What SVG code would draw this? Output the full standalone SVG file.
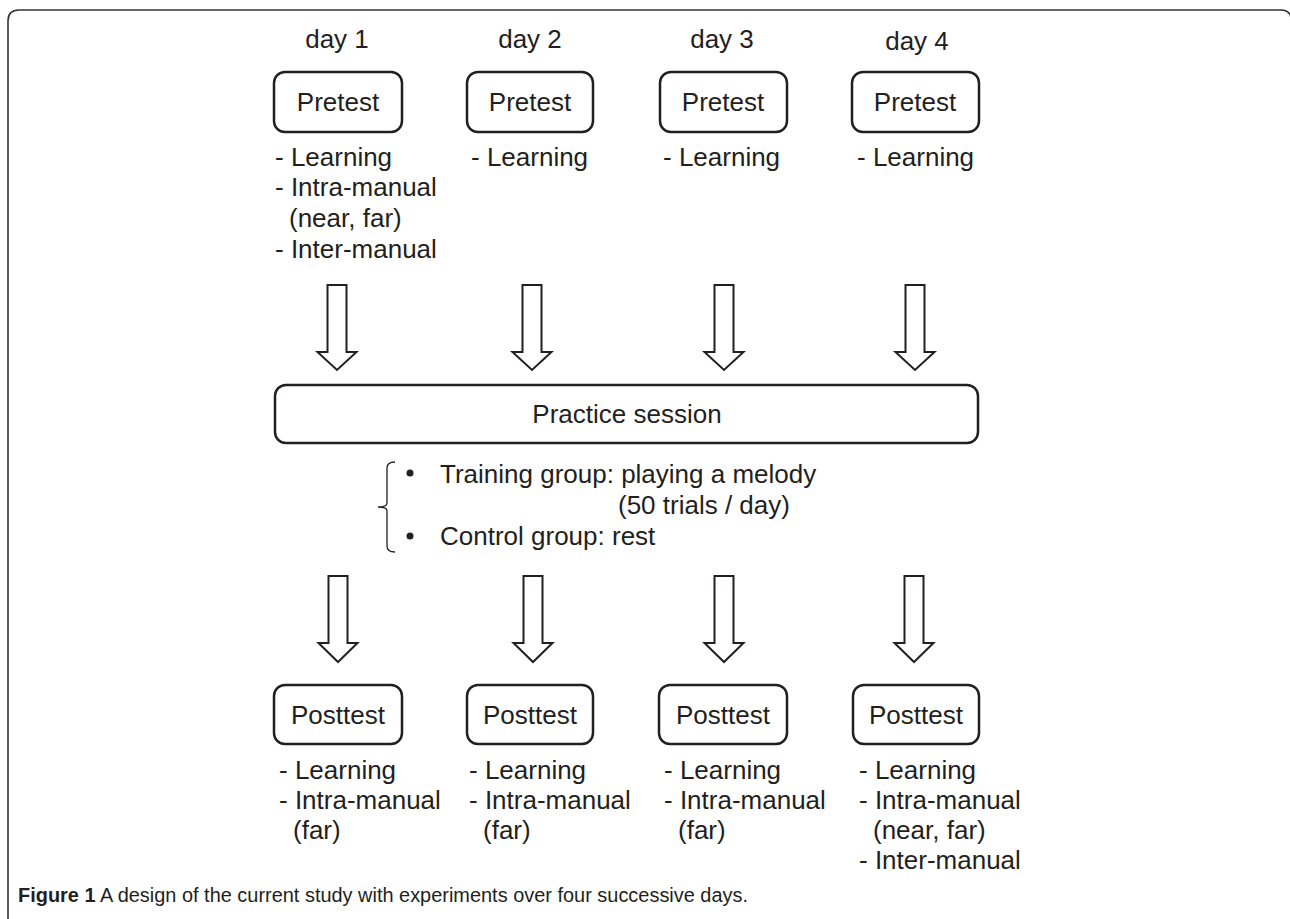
<svg xmlns="http://www.w3.org/2000/svg" width="1290" height="919" viewBox="0 0 1290 919">
<style>
.t{font-family:"Liberation Sans",Arial,sans-serif;font-size:26px;fill:#231f20}
.c{text-anchor:middle}
.box{fill:#fff;stroke:#231f20;stroke-width:2.5}
.arr{fill:#fff;stroke:#231f20;stroke-width:2;stroke-linejoin:miter}
.cap{font-family:"Liberation Sans",Arial,sans-serif;font-size:20px;fill:#231f20}
</style>
<defs>
<path id="arrTop" class="arr" d="M -9.5 285 H 9.5 V 352 H 19.5 L 0 370 L -19.5 352 H -9.5 Z"/>
<path id="arrBot" class="arr" d="M -9.5 576 H 9.5 V 643 H 19.5 L 0 662 L -19.5 643 H -9.5 Z"/>
</defs>
<rect width="1290" height="919" fill="#fff"/>
<path d="M 8 919 V 21 Q 8 10 19 10 H 1281 Q 1291 10 1291 20 V 919" fill="none" stroke="#333" stroke-width="1.6"/>

<g id="day1">
<text class="t c" x="337" y="48">day 1</text>
<rect class="box" x="274" y="72" width="128" height="60" rx="11"/>
<text class="t c" x="338" y="111">Pretest</text>
<text class="t" x="275" y="166">- Learning</text>
<text class="t" x="275" y="196">- Intra-manual</text>
<text class="t" x="289" y="227">(near, far)</text>
<text class="t" x="275" y="258">- Inter-manual</text>
</g>
<g id="day2">
<text class="t c" x="530" y="48">day 2</text>
<rect class="box" x="467" y="72" width="126" height="60" rx="11"/>
<text class="t c" x="530" y="111">Pretest</text>
<text class="t" x="471" y="166">- Learning</text>
</g>
<g id="day3">
<text class="t c" x="722" y="48">day 3</text>
<rect class="box" x="660" y="72" width="127" height="60" rx="11"/>
<text class="t c" x="723" y="111">Pretest</text>
<text class="t" x="663" y="166">- Learning</text>
</g>
<g id="day4">
<text class="t c" x="917" y="50">day 4</text>
<rect class="box" x="852" y="72" width="127" height="60" rx="11"/>
<text class="t c" x="915" y="111">Pretest</text>
<text class="t" x="857" y="166">- Learning</text>
</g>

<g id="practice">
<rect class="box" x="275" y="385" width="703" height="58" rx="11"/>
<text class="t c" x="627" y="423">Practice session</text>
</g>

<g id="groups">
<path d="M 395 462 Q 387 462 387 468 V 503 Q 387 507 378 507 Q 387 507 387 511 V 546 Q 387 552 395 552" fill="none" stroke="#231f20" stroke-width="1.3"/>
<circle cx="410" cy="473" r="3.5" fill="#231f20"/>
<circle cx="410" cy="536" r="3.5" fill="#231f20"/>
<text class="t" x="440" y="483">Training group: playing a melody</text>
<text class="t" x="618" y="514">(50 trials / day)</text>
<text class="t" x="440" y="545">Control group: rest</text>
</g>

<g id="post1">
<rect class="box" x="274" y="685" width="128" height="59" rx="11"/>
<text class="t c" x="338" y="724">Posttest</text>
<text class="t" x="279" y="779">- Learning</text>
<text class="t" x="279" y="809">- Intra-manual</text>
<text class="t" x="293" y="839">(far)</text>
</g>
<g id="post2">
<rect class="box" x="467" y="685" width="126" height="59" rx="11"/>
<text class="t c" x="530" y="724">Posttest</text>
<text class="t" x="469" y="779">- Learning</text>
<text class="t" x="469" y="809">- Intra-manual</text>
<text class="t" x="483" y="839">(far)</text>
</g>
<g id="post3">
<rect class="box" x="659" y="685" width="128" height="59" rx="11"/>
<text class="t c" x="723" y="724">Posttest</text>
<text class="t" x="664" y="779">- Learning</text>
<text class="t" x="664" y="809">- Intra-manual</text>
<text class="t" x="678" y="839">(far)</text>
</g>
<g id="post4">
<rect class="box" x="853" y="685" width="126" height="59" rx="11"/>
<text class="t c" x="916" y="724">Posttest</text>
<text class="t" x="859" y="779">- Learning</text>
<text class="t" x="859" y="809">- Intra-manual</text>
<text class="t" x="873" y="839">(near, far)</text>
<text class="t" x="859" y="869">- Inter-manual</text>
</g>

<g id="connectors">
<use href="#arrTop" x="337"/>
<use href="#arrTop" x="532"/>
<use href="#arrTop" x="724"/>
<use href="#arrTop" x="915"/>
<use href="#arrBot" x="338"/>
<use href="#arrBot" x="533"/>
<use href="#arrBot" x="724"/>
<use href="#arrBot" x="914"/>
</g>

<g id="caption">
<text class="cap" x="18" y="902" textLength="730" lengthAdjust="spacingAndGlyphs"><tspan font-weight="bold">Figure 1</tspan> A design of the current study with experiments over four successive days.</text>
</g>
</svg>
